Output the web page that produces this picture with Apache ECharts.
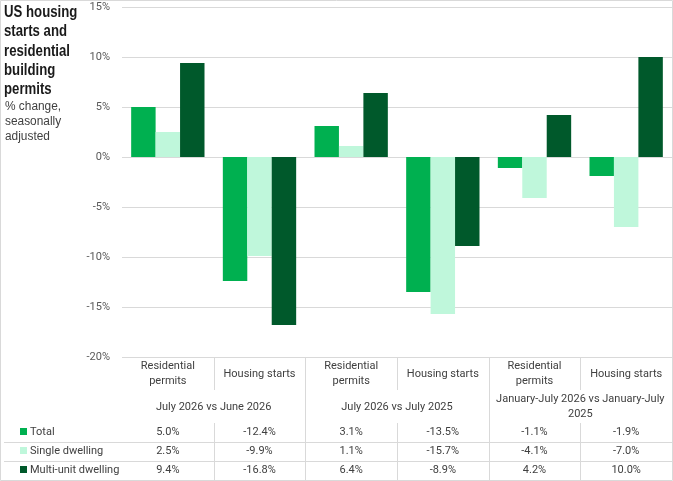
<!DOCTYPE html>
<html>
<head>
<meta charset="utf-8">
<script src="https://cdn.jsdelivr.net/npm/echarts@6/dist/echarts.min.js"></script>
<style>
  html, body { margin: 0; padding: 0; background: #fff; }
  #chart1 { width: 673px; height: 481px; }
</style>
</head>
<body>
<div id="chart1"></div>
<script>
// data
var categories = ['Residential\npermits', 'Housing starts', 'Residential\npermits', 'Housing starts', 'Residential\npermits', 'Housing starts'];
var groups = ['July 2026 vs June 2026', 'July 2026 vs July 2025', 'January-July 2026 vs January-July\n2025'];
var totalVals = [5.0, -12.4, 3.1, -13.5, -1.1, -1.9];
var singleVals = [2.5, -9.9, 1.1, -15.7, -4.1, -7.0];
var multiVals = [9.4, -16.8, 6.4, -8.9, 4.2, 10.0];
var seriesNames = ['Total', 'Single dwelling', 'Multi-unit dwelling'];
var colors = ['#00B050', '#BFF7DB', '#00592B'];

var narrow = "Roboto, sans-serif";
var lineCol = '#d9d9d9';
var txtCol = '#404040';

var minechart1 = echarts.init(document.getElementById('chart1'));
var option = {
  animation: false,
  grid: { left: 122, right: 1, top: 7, bottom: 124 },
  xAxis: {
    type: 'category',
    data: categories,
    axisLine: { show: false },
    axisTick: { show: false },
    axisLabel: { show: false }
  },
  yAxis: {
    type: 'value',
    min: -20, max: 15, interval: 5,
    axisLabel: { formatter: '{value}%', color: '#595959', fontSize: 11, margin: 12, fontFamily: narrow },
    splitLine: { lineStyle: { color: lineCol } },
    axisLine: { show: false },
    axisTick: { show: false }
  },
  series: [
    { name: seriesNames[0], type: 'bar', data: totalVals, itemStyle: { color: colors[0] }, barGap: 0, barCategoryGap: '20%' },
    { name: seriesNames[1], type: 'bar', data: singleVals, itemStyle: { color: colors[1] } },
    { name: seriesNames[2], type: 'bar', data: multiVals, itemStyle: { color: colors[2] } }
  ]
};
minechart1.setOption(option);

// title + data table under the plot
function buildTable() {
  var left = 122, right = 672, top = 357;
  var colW = (right - left) / categories.length;
  var g = [];
  function line(x1, y1, x2, y2) {
    g.push({ type: 'line', silent: true, shape: { x1: x1, y1: y1, x2: x2, y2: y2 }, style: { stroke: lineCol, lineWidth: 1 } });
  }
  function text(str, x, y, align, extra) {
    var st = { text: str, x: x, y: y, align: align || 'center', verticalAlign: 'middle', fill: txtCol, fontSize: 11, fontFamily: narrow, lineHeight: 15 };
    for (var k in extra) st[k] = extra[k];
    g.push({ type: 'text', silent: true, style: st });
  }
  // outer border
  g.push({ type: 'rect', silent: true, shape: { x: 0.5, y: 0.5, width: 672, height: 480 }, style: { fill: 'none', stroke: lineCol, lineWidth: 1 } });

  // title, squeezed to look like a narrow face
  g.push({
    type: 'text', silent: true, x: 4, y: 3, scaleX: 0.8,
    style: { text: 'US housing\nstarts and\nresidential\nbuilding\npermits', x: 0, y: 0, fill: '#1a1a1a',
      fontFamily: "'Liberation Sans', sans-serif", fontWeight: 'bold', fontSize: 16.5, lineHeight: 19.3 }
  });
  g.push({
    type: 'text', silent: true, x: 5, y: 99, scaleX: 0.95,
    style: { text: '% change,\nseasonally\nadjusted', x: 0, y: 0, fill: txtCol,
      fontFamily: "'Liberation Sans', sans-serif", fontSize: 12.5, lineHeight: 15.2 }
  });

  // header row: sub-categories
  categories.forEach(function (c, i) {
    var cx = minechart1.convertToPixel({ xAxisIndex: 0 }, i);
    text(c, cx, 374);
    if (i > 0) {
      var x = Math.round(left + colW * i) + 0.5;
      if (i % 2 === 0) {
        line(x, top, x, 480);
      } else {
        line(x, top, x, 390);
        line(x, 423, x, 480);
      }
    }
  });
  // group row
  groups.forEach(function (t, j) {
    var cx = left + colW * (2 * j + 1);
    text(t, cx, 407);
  });
  // data rows
  var rows = [totalVals, singleVals, multiVals];
  var rowY = [432, 451, 470];
  rows.forEach(function (vals, r) {
    g.push({ type: 'rect', silent: true, shape: { x: 20, y: rowY[r] - 4, width: 7, height: 7 }, style: { fill: colors[r] } });
    text(seriesNames[r], 30, rowY[r], 'left');
    vals.forEach(function (v, i) {
      var cx = minechart1.convertToPixel({ xAxisIndex: 0 }, i);
      text(v.toFixed(1) + '%', cx, rowY[r]);
    });
    line(4, rowY[r] + 10.5, right, rowY[r] + 10.5);
  });
  minechart1.setOption({ graphic: g });
}
buildTable();
</script>
</body>
</html>
